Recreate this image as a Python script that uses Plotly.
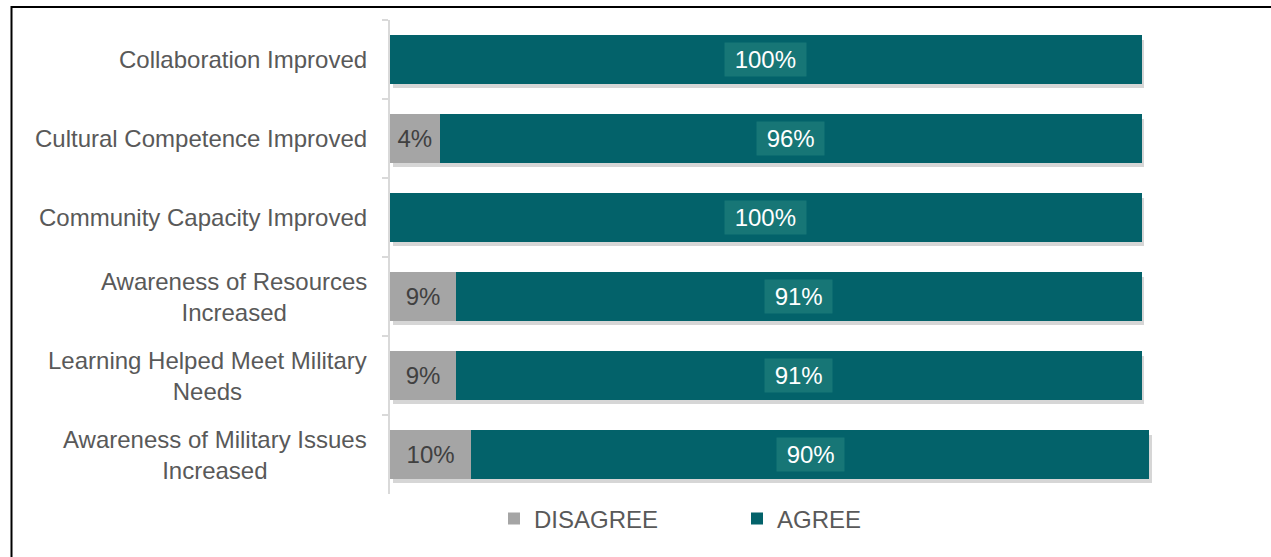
import plotly.graph_objects as go

categories = [
    "Collaboration Improved",
    "Cultural Competence Improved",
    "Community Capacity Improved",
    "Awareness of Resources<br>Increased",
    "Learning Helped Meet Military<br>Needs",
    "Awareness of Military Issues<br>Increased",
]
# bar lengths
disagree_vals = [0, 6.6, 0, 8.8, 8.8, 10.8]
agree_vals = [100, 93.4, 100, 91.2, 91.2, 90.2]
# printed labels
disagree_labels = ["", "4%", "", "9%", "9%", "10%"]
agree_labels = ["100%", "96%", "100%", "91%", "91%", "90%"]

GRAY = "#A5A5A5"
TEAL = "#03626A"
BOX = "#177676"
FONT = "Liberation Sans, Arial, sans-serif"
FS = 24

L, R, T, B = 390, 39, 20, 63
W = 1271 - L - R
H = 557 - T - B
XMAX = 112
N = len(categories)

totals = [d + a for d, a in zip(disagree_vals, agree_vals)]

fig = go.Figure()
# soft drop shadow, drawn on the base (hidden) axes, offset a few pixels
fig.add_trace(go.Bar(
    y=categories, x=totals, orientation="h", xaxis="x", yaxis="y",
    marker=dict(color="rgba(0,0,0,0.16)", line=dict(width=0)),
    showlegend=False, hoverinfo="skip",
))
fig.add_trace(go.Bar(
    y=categories, x=disagree_vals, orientation="h", name="DISAGREE",
    xaxis="x2", yaxis="y2",
    marker=dict(color=GRAY, line=dict(width=0)),
    text=disagree_labels, textposition="inside", insidetextanchor="middle",
    textfont=dict(color="#404040", size=FS, family=FONT),
    constraintext="none", hoverinfo="skip",
))
fig.add_trace(go.Bar(
    y=categories, x=agree_vals, orientation="h", name="AGREE",
    xaxis="x2", yaxis="y2",
    marker=dict(color=TEAL, line=dict(width=0)),
    hoverinfo="skip",
))

annotations = []
for c, d, a, lab in zip(categories, disagree_vals, agree_vals, agree_labels):
    annotations.append(dict(
        x=d + a / 2, y=c, xref="x2", yref="y2",
        text="\u00a0" + lab + "\u00a0", showarrow=False,
        font=dict(color="white", size=FS, family=FONT),
        bgcolor=BOX, borderpad=3,
    ))
# category labels (multi-line labels are centred line by line)
for c in categories:
    annotations.append(dict(
        x=0, y=c, xref="paper", yref="y2", xanchor="right", yanchor="middle",
        xshift=-21, text=c, align="center", showarrow=False,
        font=dict(color="#595959", size=FS, family=FONT),
    ))

shapes = [dict(
    type="rect", xref="paper", yref="paper",
    x0=(11.5 - L) / W, x1=1.3, y0=-0.3, y1=(557 - B - 7) / H,
    line=dict(color="black", width=2), fillcolor="rgba(0,0,0,0)", layer="above",
)]

dx = 2.5 / (W / XMAX)     # shadow shift right (data units)
dy = 4.5 / (H / N)        # shadow shift down (category units)

fig.update_layout(
    width=1271, height=557,
    margin=dict(l=L, r=R, t=T, b=B, pad=0),
    barmode="stack", bargap=0.39,
    paper_bgcolor="white", plot_bgcolor="white",
    font=dict(family=FONT, size=FS, color="#595959"),
    showlegend=True,
    legend=dict(
        orientation="h", x=(494 - L) / W, xanchor="left", y=-0.005, yanchor="top",
        font=dict(size=FS, color="#595959", family=FONT),
        entrywidth=198, entrywidthmode="pixels", traceorder="normal",
        itemwidth=30, tracegroupgap=0,
    ),
    xaxis=dict(range=[-dx, XMAX - dx], visible=False, fixedrange=True),
    yaxis=dict(range=[N - 0.5 - dy, -0.5 - dy], visible=False, fixedrange=True),
    xaxis2=dict(range=[0, XMAX], visible=False, overlaying="x", fixedrange=True),
    yaxis2=dict(
        overlaying="y", side="left",
        range=[N - 0.5, -0.5], showline=True, linecolor="#D9D9D9", linewidth=2,
        ticks="outside", tickson="boundaries", ticklen=6, tickcolor="#D9D9D9",
        tickwidth=2, showgrid=False, zeroline=False, showticklabels=False,
    ),
    annotations=annotations,
    shapes=shapes,
)

fig.write_html(
    "out.html",
    config={"displayModeBar": False},
    post_script="document.body.style.margin='0px';",
)
